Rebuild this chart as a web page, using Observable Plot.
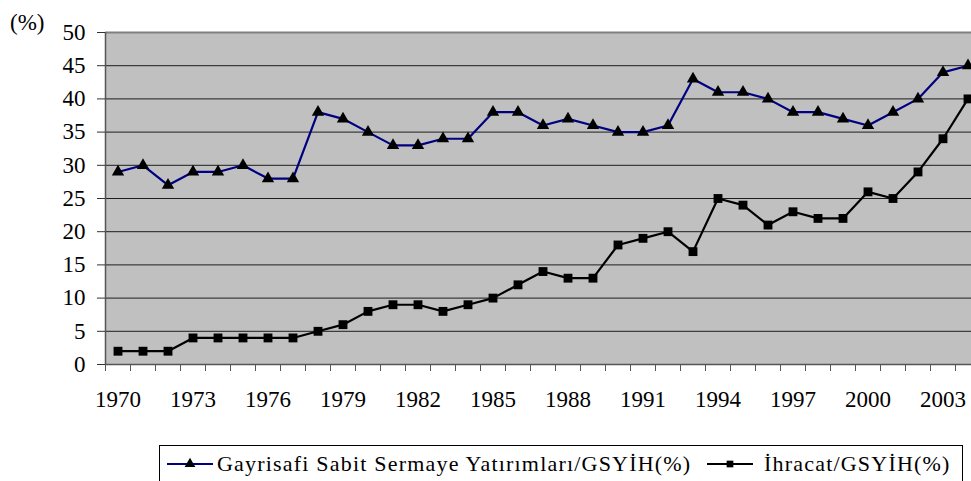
<!DOCTYPE html>
<html>
<head>
<meta charset="utf-8">
<script src="https://cdn.jsdelivr.net/npm/d3@7"></script>
<script src="https://cdn.jsdelivr.net/npm/@observablehq/plot@0.6"></script>
<style>
  html, body { margin: 0; padding: 0; background: #fff; }
  #wrap { position: relative; width: 971px; height: 481px; overflow: hidden; font-family: "Liberation Serif", "Times New Roman", serif; }
  #unit { position: absolute; left: 10px; top: 9px; font-size: 23px; line-height: 28px; }
  #legend { position: absolute; left: 159px; top: 445px; width: 804px; height: 40px; border: 1px solid #000; box-sizing: border-box; font-size: 22px; letter-spacing: 1.2px; white-space: nowrap; }
  #legend .sw { position: absolute; top: 11px; display: block; }
  #legend .lab { position: absolute; top: 5px; line-height: 26px; }
  #chart svg { overflow: hidden; }
</style>
</head>
<body>
<div id="wrap">
  <div id="chart"></div>
  <div id="unit">(%)</div>
  <div id="legend"></div>
</div>
<script>
const years = d3.range(1970, 2005);
const investment = [29, 30, 27, 29, 29, 30, 28, 28, 38, 37, 35, 33, 33, 34, 34, 38, 38, 36, 37, 36, 35, 35, 36, 43, 41, 41, 40, 38, 38, 37, 36, 38, 40, 44, 45];
const exports = [2, 2, 2, 4, 4, 4, 4, 4, 5, 6, 8, 9, 9, 8, 9, 10, 12, 14, 13, 13, 18, 19, 20, 17, 25, 24, 21, 23, 22, 22, 26, 25, 29, 34, 40];
const yearLabels = [1970, 1973, 1976, 1979, 1982, 1985, 1988, 1991, 1994, 1997, 2000, 2003];
const yTicks = d3.range(0, 55, 5);
const seriesNames = ["Gayrisafi Sabit Sermaye Yatırımları/GSYİH(%)", "İhracat/GSYİH(%)"];

const inv = years.map((y, i) => ({year: y, value: investment[i]}));
const exp = years.map((y, i) => ({year: y, value: exports[i]}));
const boundaries = d3.range(1969.5, 2005, 1);
const serif = "'Liberation Serif', 'Times New Roman', serif";

const chart = Plot.plot({
  width: 971,
  height: 420,
  marginLeft: 105,
  marginRight: -9,
  marginTop: 32,
  marginBottom: 56,
  style: {fontFamily: serif, fontSize: "22px", background: "transparent", overflow: "hidden"},
  x: {type: "linear", domain: [1969.5, 2004.5], label: null},
  y: {domain: [0, 50], label: null},
  marks: [
    Plot.frame({fill: "#c0c0c0", stroke: "none"}),
    Plot.ruleY(yTicks.filter(d => d > 0 && d < 50), {stroke: "#000", strokeWidth: 1, strokeOpacity: 0.85}),
    Plot.ruleY([50], {stroke: "#808080", strokeWidth: 2}),
    Plot.ruleY([0], {stroke: "#555", strokeWidth: 1.5}),
    Plot.ruleX([1969.5], {stroke: "#555", strokeWidth: 1.5}),
    Plot.axisY({ticks: yTicks, tickSize: 8, tickPadding: 12, tickFormat: d => String(d), stroke: "#333", fontSize: 23, fontFamily: serif, fill: "#000", label: null, style: {letterSpacing: "1px"}}),
    Plot.axisX({ticks: boundaries, tickSize: 7, tickFormat: () => "", stroke: "#555", label: null}),
    Plot.axisX({ticks: yearLabels, tickSize: 0, tickPadding: 26, tickFormat: d => String(d), fontSize: 23, fontFamily: serif, fill: "#000", label: null, style: {letterSpacing: "1.2px"}}),
    Plot.line(inv, {x: "year", y: "value", stroke: "#000080", strokeWidth: 2.2}),
    Plot.line(exp, {x: "year", y: "value", stroke: "#000", strokeWidth: 2.2}),
    Plot.dot(inv, {x: "year", y: "value", symbol: "triangle", r: 4.6, fill: "#000", stroke: "none"}),
    Plot.dot(exp, {x: "year", y: "value", symbol: "square", r: 5, fill: "#000", stroke: "none"})
  ]
});
document.getElementById("chart").appendChild(chart);

// legend
const legend = document.getElementById("legend");
const specs = [
  {name: seriesNames[0], color: "#000080", symbol: d3.symbolTriangle, size: 50, lineLeft: 7, textLeft: 57},
  {name: seriesNames[1], color: "#000", symbol: d3.symbolSquare, size: 45, lineLeft: 547, textLeft: 604}
];
specs.forEach(s => {
  const svg = d3.create("svg").attr("class", "sw").attr("width", 48).attr("height", 14).style("left", s.lineLeft + "px");
  svg.append("line").attr("x1", 0).attr("x2", 46).attr("y1", 7).attr("y2", 7).attr("stroke", s.color).attr("stroke-width", 2.2);
  svg.append("path").attr("d", d3.symbol(s.symbol, s.size)()).attr("transform", "translate(23,7)").attr("fill", "#000");
  legend.appendChild(svg.node());
  const t = document.createElement("span");
  t.className = "lab";
  t.textContent = s.name;
  t.style.left = s.textLeft + "px";
  legend.appendChild(t);
});
</script>
</body>
</html>
